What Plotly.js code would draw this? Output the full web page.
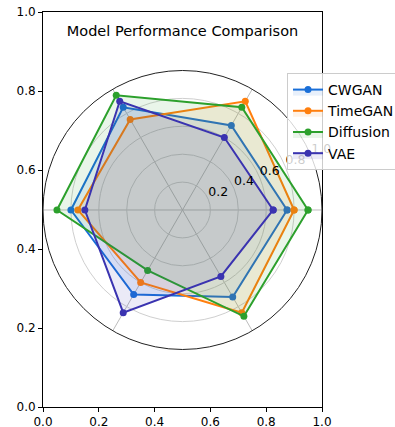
<!DOCTYPE html>
<html>
<head>
<meta charset="utf-8">
<script src="https://cdn.plot.ly/plotly-3.0.1.min.js"></script>
<style>html,body{margin:0;padding:0;background:#fff;}#chart{width:395px;height:427px;}</style>
</head>
<body>
<div id="chart"></div>
<script>
const categories = ['Distribution Match', 'Temporal Dynamics', 'Training Stability', 'Sample Diversity', 'Computation Speed', 'Stylized Facts'];
const categoryLabels = ['Distribution<br>Match', 'Temporal<br>Dynamics', 'Training<br>Stability', 'Sample<br>Diversity', 'Computation<br>Speed', 'Stylized<br>Facts'];
const seriesNames = ['CWGAN', 'TimeGAN', 'Diffusion', 'VAE'];
const cwgan = [0.75, 0.70, 0.85, 0.80, 0.70, 0.72];
const timegan = [0.80, 0.90, 0.75, 0.75, 0.60, 0.85];
const diffusion = [0.90, 0.85, 0.95, 0.90, 0.50, 0.88];
const vae = [0.65, 0.60, 0.90, 0.70, 0.85, 0.55];
const radialTicks = [0.2, 0.4, 0.6, 0.8, 1.0];
const radialTickText = ['0.2', '0.4', '0.6', '0.8', '1.0'];
const radialLabelAngle = 22.5;
const axisTicks = [0.0, 0.2, 0.4, 0.6, 0.8, 1.0];

const colors = ['#1a6fd8', '#ff7f0e', '#2ca02c', '#3a33b0'];
const fills = ['rgba(26,111,216,0.1)', 'rgba(255,127,14,0.1)', 'rgba(44,160,44,0.1)', 'rgba(58,51,176,0.1)'];
const allSeries = [cwgan, timegan, diffusion, vae];
const labelR = categories.map(() => 1.1);

const traces = [{type: 'scatter', x: [], y: [], showlegend: false, hoverinfo: 'skip'}];
allSeries.forEach((vals, i) => {
  traces.push({
    type: 'scatterpolar',
    r: vals.concat([vals[0]]),
    theta: categories.concat([categories[0]]),
    name: seriesNames[i],
    mode: 'lines+markers',
    line: {color: colors[i], width: 2},
    marker: {color: colors[i], size: 7},
    fill: 'toself',
    fillcolor: fills[i]
  });
});
traces.push({
  type: 'scatterpolar',
  r: labelR,
  theta: categories,
  mode: 'text',
  text: categoryLabels,
  textposition: 'middle center',
  textfont: {size: 9.7, color: '#262626'},
  cliponaxis: false,
  showlegend: false,
  hoverinfo: 'skip'
});
// radial tick labels, matplotlib-style (left/bottom aligned at 22.5 deg)
traces.push({
  type: 'scatterpolar',
  subplot: 'polar2',
  r: radialTicks,
  theta: radialTicks.map(() => radialLabelAngle),
  mode: 'text',
  text: radialTickText,
  textposition: 'top right',
  textfont: {size: 12.5, color: '#000'},
  cliponaxis: false,
  showlegend: false,
  hoverinfo: 'skip'
});

const axisCommon = {
  range: [0, 1], tickvals: axisTicks, tickformat: '.1f',
  showline: true, mirror: true, linecolor: '#000', linewidth: 1,
  ticks: 'outside', ticklen: 4, tickcolor: '#000',
  showgrid: false, zeroline: false, tickfont: {size: 12, color: '#000'}, fixedrange: true
};

const polarDomain = {x: [0, 1], y: [0.1456, 0.8519]};

const layout = {
  width: 395, height: 427,
  margin: {l: 43, r: 73, t: 12, b: 20, autoexpand: false},
  paper_bgcolor: '#fff', plot_bgcolor: '#fff',
  font: {family: 'DejaVu Sans', color: '#000'},
  title: {text: 'Model Performance Comparison', font: {size: 14.5, color: '#000'}, x: 0.5, xref: 'paper', xanchor: 'center', y: 1 - 31 / 427, yref: 'container', yanchor: 'middle'},
  xaxis: axisCommon,
  yaxis: axisCommon,
  polar: {
    domain: polarDomain,
    bgcolor: '#fff',
    angularaxis: {
      rotation: 0, direction: 'counterclockwise',
      showticklabels: false, ticks: '',
      showline: true, linecolor: '#222', linewidth: 1,
      gridcolor: '#bdbdbd', gridwidth: 1
    },
    radialaxis: {
      range: [0, 1], tickvals: radialTicks,
      showticklabels: false, showline: false, ticks: '',
      gridcolor: '#cfcfcf', gridwidth: 1
    }
  },
  polar2: {
    domain: polarDomain,
    bgcolor: 'rgba(0,0,0,0)',
    angularaxis: {
      rotation: 0, direction: 'counterclockwise', thetaunit: 'degrees',
      showticklabels: false, ticks: '', showline: false, showgrid: false
    },
    radialaxis: {
      range: [0, 1], showticklabels: false, showline: false, ticks: '', showgrid: false
    }
  },
  showlegend: true,
  legend: {
    x: 0.8746, y: 0.8456, xanchor: 'left', yanchor: 'top',
    bgcolor: 'rgba(255,255,255,0.8)', bordercolor: '#cccccc', borderwidth: 1,
    font: {size: 14, color: '#000'}, itemwidth: 30, tracegroupgap: 0
  }
};

Plotly.newPlot('chart', traces, layout, {displayModeBar: false, staticPlot: true});
</script>
</body>
</html>
